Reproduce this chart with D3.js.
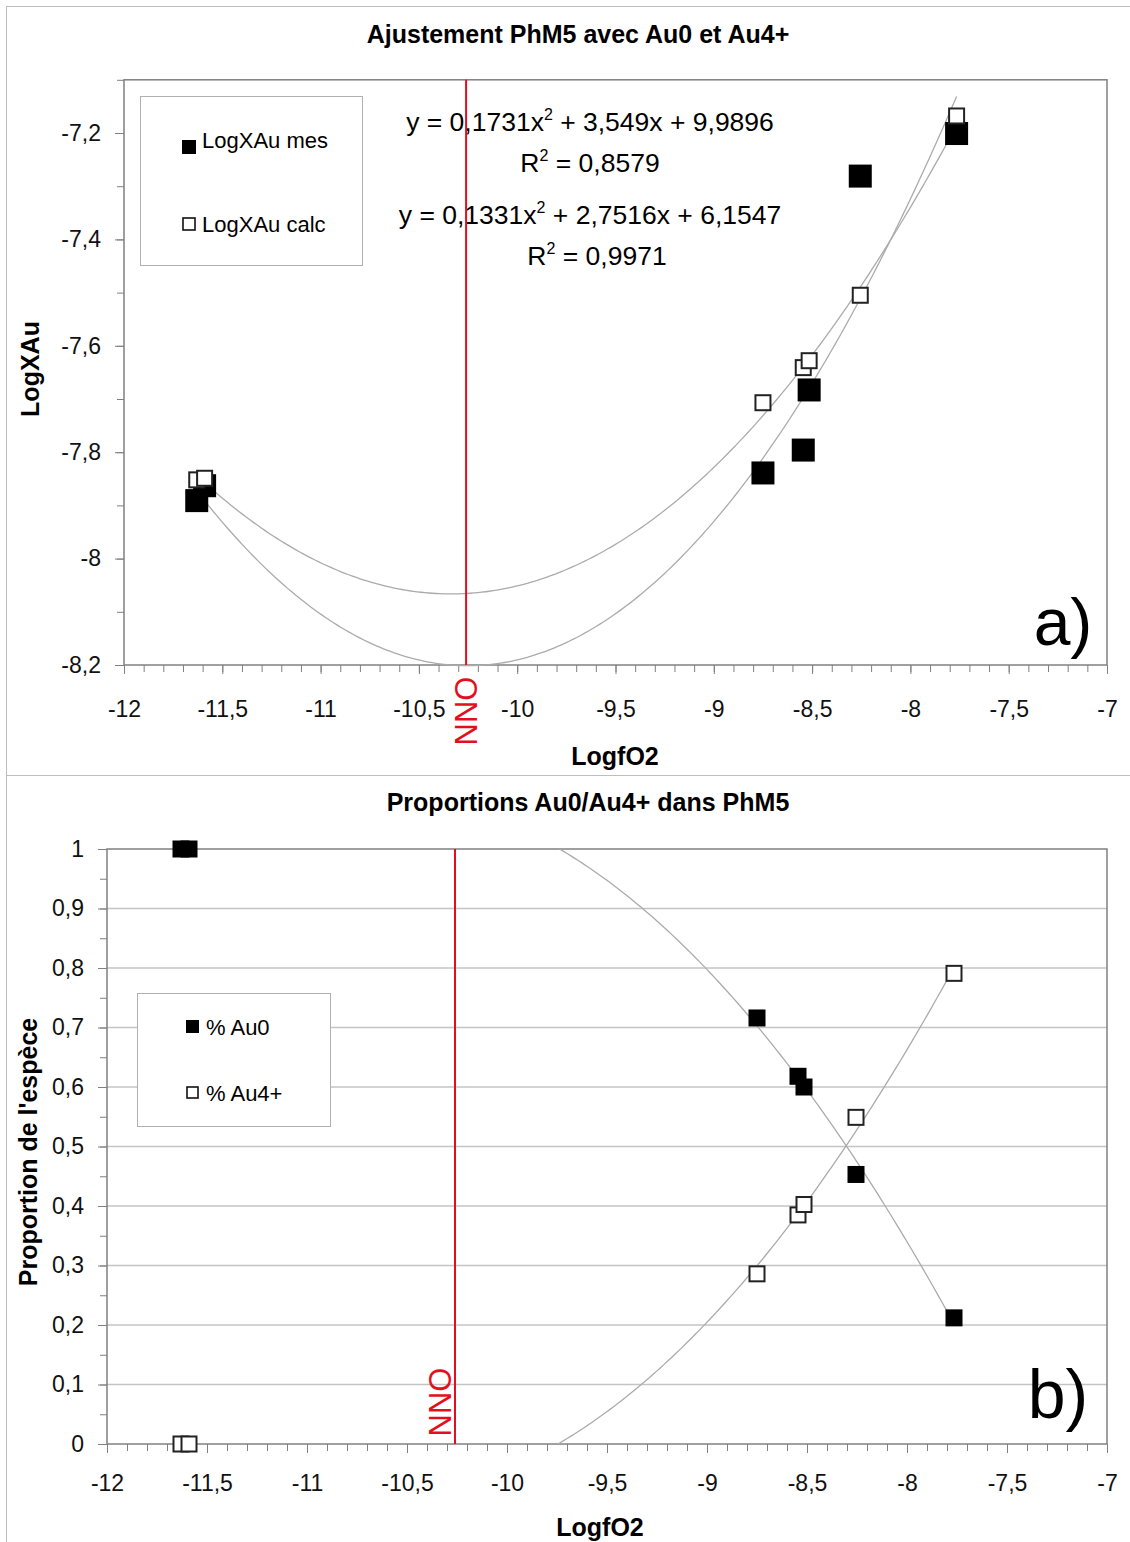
<!DOCTYPE html>
<html><head><meta charset="utf-8">
<script src="https://cdn.jsdelivr.net/npm/d3@7"></script>
<style>body{margin:0;background:#fff}svg{display:block}text{font-family:"Liberation Sans",Arial,sans-serif}</style>
</head><body>
<script>
// ---- data ----
const logfO2      = [-11.63, -11.59, -8.75, -8.545, -8.515, -8.255, -7.765];
const logXAuMes   = [-7.891, -7.863, -7.839, -7.796, -7.683, -7.281, -7.201];
const logXAuCalc  = [-7.852, -7.849, -7.707, -7.641, -7.628, -7.505, -7.168];
const pctAu0      = [1, 1, 0.716, 0.618, 0.600, 0.453, 0.212];
const pctAu4      = [0, 0, 0.286, 0.385, 0.4025, 0.549, 0.791];
const fitMes      = [0.1731, 3.549, 9.9896];   // y = a x^2 + b x + c
const fitCalc     = [0.1331, 2.7516, 6.1547];
const eqMes       = ["y = 0,1731x", "2", " + 3,549x + 9,9896"];
const eqCalc      = ["y = 0,1331x", "2", " + 2,7516x + 6,1547"];
const r2Labels    = ["0,8579", "0,9971"];
const nno         = -10.26;
const xTicks      = [-12,-11.5,-11,-10.5,-10,-9.5,-9,-8.5,-8,-7.5,-7];
const yTicksTop   = [-8.2,-8,-7.8,-7.6,-7.4,-7.2];
const yTicksBot   = [0,0.1,0.2,0.3,0.4,0.5,0.6,0.7,0.8,0.9,1];

const fmt = d => String(+d.toFixed(2)).replace('.', ',');
const W = 1130, H = 1542;
const svg = d3.select("body").append("svg").attr("width", W).attr("height", H);

// frames
svg.append("rect").attr("x",6.5).attr("y",6.5).attr("width",1135).attr("height",769).attr("fill","none").attr("stroke","#bdbdbd");
svg.append("rect").attr("x",6.5).attr("y",775.5).attr("width",1135).attr("height",780).attr("fill","none").attr("stroke","#bdbdbd");

// polynomial least squares (degree 2) for trendlines of proportions
function polyfit2(xs, ys){
  let S=[0,0,0,0,0], T=[0,0,0];
  xs.forEach((x,i)=>{ for(let k=0;k<5;k++) S[k]+=Math.pow(x,k); for(let k=0;k<3;k++) T[k]+=ys[i]*Math.pow(x,k); });
  const A=[[S[0],S[1],S[2],T[0]],[S[1],S[2],S[3],T[1]],[S[2],S[3],S[4],T[2]]];
  for(let i=0;i<3;i++){ for(let j=i+1;j<3;j++){ const f=A[j][i]/A[i][i]; for(let k=i;k<4;k++) A[j][k]-=f*A[i][k]; } }
  const c=[0,0,0];
  for(let i=2;i>=0;i--){ let s=A[i][3]; for(let k=i+1;k<3;k++) s-=A[i][k]*c[k]; c[i]=s/A[i][i]; }
  return c; // c0 + c1 x + c2 x^2
}

function axes(g, x, y, yTicks, yMinor, bottom, left, xPad, ylabFmt){
  g.append("g").attr("transform",`translate(0,${bottom})`)
    .call(d3.axisBottom(x).tickValues(d3.range(-12,-6.95,0.1)).tickSize(7).tickFormat(""))
    .call(s=>{s.select(".domain").remove(); s.selectAll("line").attr("stroke","#808080");});
  g.append("g").attr("transform",`translate(0,${bottom})`)
    .call(d3.axisBottom(x).tickValues(xTicks).tickSize(9).tickPadding(xPad).tickFormat(fmt))
    .call(s=>{s.select(".domain").remove(); s.selectAll("line").attr("stroke","#808080");
      s.selectAll("text").attr("font-size",23).attr("fill","#111").attr("font-family","Liberation Sans, Arial");});
  g.append("g").attr("transform",`translate(${left},0)`)
    .call(d3.axisLeft(y).tickValues(yMinor).tickSize(7).tickFormat(""))
    .call(s=>{s.select(".domain").remove(); s.selectAll("line").attr("stroke","#808080");});
  g.append("g").attr("transform",`translate(${left},0)`)
    .call(d3.axisLeft(y).tickValues(yTicks).tickSize(9).tickPadding(14).tickFormat(ylabFmt))
    .call(s=>{s.select(".domain").remove(); s.selectAll("line").attr("stroke","#808080");
      s.selectAll("text").attr("font-size",23).attr("fill","#111").attr("font-family","Liberation Sans, Arial");});
}

// ================= TOP CHART =================
const x1 = d3.scaleLinear([-12,-7],[124,1107]);
const y1 = d3.scaleLinear([-8.2,-7.1],[665,79.8]);
const g1 = svg.append("g");
g1.append("text").attr("x",578).attr("y",43).attr("text-anchor","middle").attr("font-size",25).attr("font-weight","bold").text("Ajustement PhM5 avec Au0 et Au4+");
g1.append("rect").attr("x",124).attr("y",79.8).attr("width",983).attr("height",665-79.8).attr("fill","#fff").attr("stroke","#808080").attr("stroke-width",1.5);
axes(g1, x1, y1, yTicksTop, d3.range(-8.2,-7.09,0.1), 665, 124, 27, d=>fmt(d));
g1.append("text").attr("x",615).attr("y",765).attr("text-anchor","middle").attr("font-size",25).attr("font-weight","bold").text("LogfO2");
g1.append("text").attr("transform","translate(39,369) rotate(-90)").attr("text-anchor","middle").attr("font-size",25).attr("font-weight","bold").text("LogXAu");

// legend
g1.append("rect").attr("x",140.5).attr("y",96.5).attr("width",222).attr("height",169).attr("fill","#fff").attr("stroke","#b0b0b0");
g1.append("rect").attr("x",182).attr("y",140).attr("width",14).attr("height",14).attr("fill","#000");
g1.append("text").attr("x",202).attr("y",148).attr("font-size",22).text("LogXAu mes");
g1.append("rect").attr("x",183).attr("y",218).attr("width",12).attr("height",12).attr("fill","#fff").attr("stroke","#111").attr("stroke-width",1.6);
g1.append("text").attr("x",202).attr("y",232).attr("font-size",22).text("LogXAu calc");

// equations
function eq(y, parts){
  const t = g1.append("text").attr("x",590).attr("y",y).attr("text-anchor","middle").attr("font-size",26.5);
  t.append("tspan").text(parts[0]);
  t.append("tspan").attr("dy",-11).attr("font-size",16).text(parts[1]);
  t.append("tspan").attr("dy",11).text(parts[2]);
}
function r2(y, val, cx){
  const t = g1.append("text").attr("x",cx).attr("y",y).attr("text-anchor","middle").attr("font-size",26.5);
  t.append("tspan").text("R");
  t.append("tspan").attr("dy",-11).attr("font-size",16).text("2");
  t.append("tspan").attr("dy",11).text(" = "+val);
}
eq(131, eqMes); r2(172, r2Labels[0], 590);
eq(224, eqCalc); r2(265, r2Labels[1], 597);

// trendlines
const xs = d3.range(0,201).map(i => d3.min(logfO2) + (d3.max(logfO2)-d3.min(logfO2))*i/200);
const quad = c => x => c[0]*x*x + c[1]*x + c[2];
const line1 = d3.line().x(d=>x1(d[0])).y(d=>y1(d[1]));
[fitMes, fitCalc].forEach(c=>{
  g1.append("path").attr("d", line1(xs.map(x=>[x, quad(c)(x)]))).attr("fill","none").attr("stroke","#ababab").attr("stroke-width",1.3);
});
// NNO line
g1.append("line").attr("x1",x1(nno)).attr("x2",x1(nno)).attr("y1",79.8).attr("y2",665).attr("stroke","#e3101c").attr("stroke-width",2);
g1.append("text").attr("transform",`translate(${x1(nno)},711) rotate(-90)`).attr("text-anchor","middle").attr("dominant-baseline","central").attr("font-size",31).attr("fill","#e3101c").text("NNO");
// markers
logfO2.forEach((x,i)=>{
  g1.append("rect").attr("x",x1(x)-11.5).attr("y",y1(logXAuMes[i])-11.5).attr("width",23).attr("height",23).attr("fill","#000");
});
logfO2.forEach((x,i)=>{
  g1.append("rect").attr("x",x1(x)-7.5).attr("y",y1(logXAuCalc[i])-7.5).attr("width",15).attr("height",15).attr("fill","#fff").attr("stroke","#222").attr("stroke-width",2);
});
g1.append("text").attr("x",1063).attr("y",645).attr("text-anchor","middle").attr("font-size",66).text("a)");

// ================= BOTTOM CHART =================
const x2 = d3.scaleLinear([-12,-7],[107,1107]);
const y2 = d3.scaleLinear([0,1],[1444,849]);
const g2 = svg.append("g");
g2.append("text").attr("x",588).attr("y",811).attr("text-anchor","middle").attr("font-size",25).attr("font-weight","bold").text("Proportions Au0/Au4+ dans PhM5");
g2.append("rect").attr("x",107).attr("y",849).attr("width",1000).attr("height",595).attr("fill","#fff");
g2.append("g").selectAll("line").data(yTicksBot.slice(1,-1)).join("line")
  .attr("x1",107).attr("x2",1107).attr("y1",d=>y2(d)).attr("y2",d=>y2(d)).attr("stroke","#c4c4c4").attr("stroke-width",1.3);
g2.append("rect").attr("x",107).attr("y",849).attr("width",1000).attr("height",595).attr("fill","none").attr("stroke","#808080").attr("stroke-width",1.5);
axes(g2, x2, y2, yTicksBot, d3.range(0,1.001,0.05), 1444, 107, 22, d=>fmt(d));
g2.append("text").attr("x",600).attr("y",1536).attr("text-anchor","middle").attr("font-size",25).attr("font-weight","bold").text("LogfO2");
g2.append("text").attr("transform","translate(37,1152) rotate(-90)").attr("text-anchor","middle").attr("font-size",25).attr("font-weight","bold").text("Proportion de l'espèce");

// legend
g2.append("rect").attr("x",137.5).attr("y",993.5).attr("width",193).attr("height",133).attr("fill","#fff").attr("stroke","#b0b0b0");
g2.append("rect").attr("x",186).attr("y",1020).attr("width",13).attr("height",13).attr("fill","#000");
g2.append("text").attr("x",206).attr("y",1035).attr("font-size",22).text("% Au0");
g2.append("rect").attr("x",187).attr("y",1087).attr("width",11).attr("height",11).attr("fill","#fff").attr("stroke","#111").attr("stroke-width",1.6);
g2.append("text").attr("x",206).attr("y",1101).attr("font-size",22).text("% Au4+");

// clip & trendlines
svg.append("clipPath").attr("id","clipB").append("rect").attr("x",107).attr("y",849).attr("width",1000).attr("height",595);
const line2 = d3.line().x(d=>x2(d[0])).y(d=>y2(d[1]));
[pctAu0, pctAu4].forEach(ys=>{
  const c = polyfit2(logfO2, ys);
  g2.append("path").attr("clip-path","url(#clipB)")
    .attr("d", line2(xs.map(x=>[x, c[0]+c[1]*x+c[2]*x*x]))).attr("fill","none").attr("stroke","#ababab").attr("stroke-width",1.3);
});
g2.append("line").attr("x1",x2(nno)).attr("x2",x2(nno)).attr("y1",849).attr("y2",1444).attr("stroke","#e3101c").attr("stroke-width",2);
g2.append("text").attr("transform",`translate(${x2(nno)-15},1402) rotate(-90)`).attr("text-anchor","middle").attr("dominant-baseline","central").attr("font-size",31).attr("fill","#e3101c").text("NNO");
logfO2.forEach((x,i)=>{
  g2.append("rect").attr("x",x2(x)-8.5).attr("y",y2(pctAu0[i])-8.5).attr("width",17).attr("height",17).attr("fill","#000");
});
logfO2.forEach((x,i)=>{
  g2.append("rect").attr("x",x2(x)-7.5).attr("y",y2(pctAu4[i])-7.5).attr("width",15).attr("height",15).attr("fill","#fff").attr("stroke","#222").attr("stroke-width",2);
});
g2.append("text").attr("x",1058).attr("y",1418).attr("text-anchor","middle").attr("font-size",68).text("b)");
</script>
</body></html>
